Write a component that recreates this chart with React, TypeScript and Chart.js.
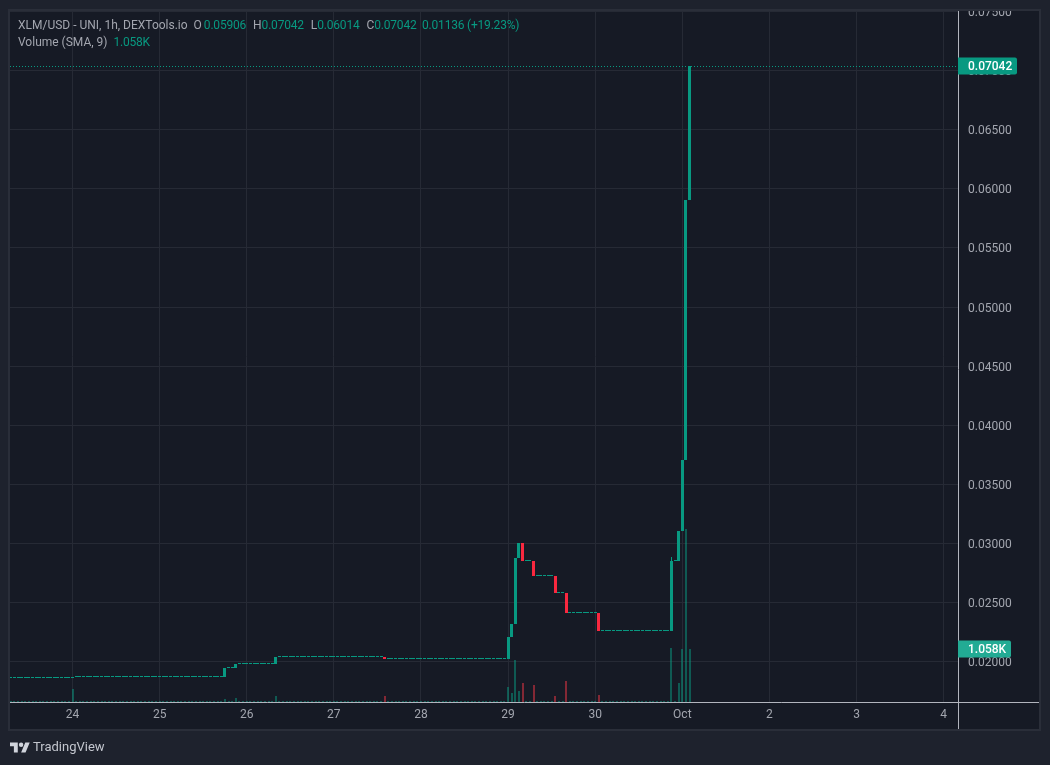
import { useEffect, useRef } from 'react';
import { Chart, registerables } from 'chart.js';

Chart.register(...registerables);

// hour offsets counted from Sep 24 00:00
const firstHour = -17;

const closes = [
  // Sep 23, late
  0.01861, 0.01861, 0.01861, 0.01861, 0.01861, 0.01861, 0.01861, 0.01861, 0.01861,
  0.01861, 0.01861, 0.01861, 0.01861, 0.01861, 0.01861, 0.01861, 0.01861,
  // Sep 24
  0.01873, 0.01873, 0.01873, 0.01873, 0.01873, 0.01873, 0.01873, 0.01873, 0.01873, 0.01873, 0.01873, 0.01873,
  0.01873, 0.01873, 0.01873, 0.01873, 0.01873, 0.01873, 0.01873, 0.01873, 0.01873, 0.01873, 0.01873, 0.01873,
  // Sep 25
  0.01873, 0.01873, 0.01873, 0.01873, 0.01873, 0.01873, 0.01873, 0.01873, 0.01873, 0.01873, 0.01873, 0.01873,
  0.01873, 0.01873, 0.01873, 0.01873, 0.01873, 0.01873, 0.01951, 0.01951, 0.01951, 0.01983, 0.01983, 0.01983,
  // Sep 26
  0.01983, 0.01983, 0.01983, 0.01983, 0.01983, 0.01983, 0.01983, 0.01983, 0.02038, 0.02038, 0.02038, 0.02038,
  0.02038, 0.02038, 0.02038, 0.02038, 0.02038, 0.02038, 0.02038, 0.02038, 0.02038, 0.02038, 0.02038, 0.02038,
  // Sep 27
  0.02038, 0.02038, 0.02038, 0.02038, 0.02038, 0.02038, 0.02038, 0.02038, 0.02038, 0.02038, 0.02038, 0.02038,
  0.02038, 0.02038, 0.02025, 0.02025, 0.02025, 0.02025, 0.02025, 0.02025, 0.02025, 0.02025, 0.02025, 0.02025,
  // Sep 28
  0.02025, 0.02025, 0.02025, 0.02025, 0.02025, 0.02025, 0.02025, 0.02025, 0.02025, 0.02025, 0.02025, 0.02025,
  0.02025, 0.02025, 0.02025, 0.02025, 0.02025, 0.02025, 0.02025, 0.02025, 0.02025, 0.02025, 0.02025, 0.02025,
  // Sep 29
  0.02207, 0.02317, 0.02876, 0.03003, 0.02854, 0.02854, 0.02854, 0.02728, 0.02728, 0.02728, 0.02728, 0.02728,
  0.02728, 0.02584, 0.02584, 0.02584, 0.02415, 0.02415, 0.02415, 0.02415, 0.02415, 0.02415, 0.02415, 0.02415,
  // Sep 30
  0.02415, 0.02262, 0.02262, 0.02262, 0.02262, 0.02262, 0.02262, 0.02262, 0.02262, 0.02262, 0.02262, 0.02262,
  0.02262, 0.02262, 0.02262, 0.02262, 0.02262, 0.02262, 0.02262, 0.02262, 0.02262, 0.02850, 0.02850, 0.03104,
  // Oct 1
  0.03705, 0.05906, 0.07042,
];

const volumes = [
  20, 20, 20, 20, 20, 20, 20, 20, 20, 20, 20, 20, 20, 20, 20, 20, 20,
  255, 20, 20, 20, 20, 20, 20, 20, 20, 20, 20, 20, 20, 20, 20, 20, 20, 20, 20, 20, 20, 20, 20, 20,
  20, 20, 20, 20, 20, 20, 20, 20, 20, 20, 20, 20, 20, 20, 20, 20, 20, 20, 59, 20, 20, 78, 20, 20,
  20, 20, 20, 20, 20, 20, 20, 20, 118, 20, 20, 20, 20, 20, 20, 20, 20, 20, 20, 20, 20, 20, 20, 20,
  20, 20, 20, 20, 20, 20, 20, 20, 20, 20, 20, 20, 20, 20, 118, 20, 20, 20, 20, 20, 20, 20, 20, 20,
  20, 20, 20, 20, 20, 20, 20, 20, 20, 20, 20, 20, 20, 20, 20, 20, 20, 20, 20, 20, 20, 20, 20, 20,
  300, 182, 823, 216, 372, 20, 20, 333, 20, 20, 20, 20, 20, 118, 20, 20, 412, 20, 20, 20, 20, 20, 20, 20,
  20, 137, 20, 20, 20, 20, 20, 20, 20, 20, 20, 20, 20, 20, 20, 20, 20, 20, 20, 20, 20, 1058, 20, 372,
  1039, 3391, 1039,
];

const wickHour = 165;
const wickRange = [0.0285, 0.02884];

const dayHours = [0, 24, 48, 72, 96, 120, 144, 168, 192, 216, 240];
const dayLabels = ['24', '25', '26', '27', '28', '29', '30', 'Oct', '2', '3', '4'];
const priceTicks = [0.02, 0.025, 0.03, 0.035, 0.04, 0.045, 0.05, 0.055, 0.06, 0.065, 0.07, 0.075];

const lastPrice = 0.07042;
const lastVolume = 1058;

const UP = '#089981';
const DOWN = '#f9283f';
const UP_VOL = 'rgba(8,153,129,0.5)';
const DOWN_VOL = 'rgba(242,54,69,0.5)';
const PAGE = '#1e222d';
const PANEL = '#161a25';
const FRAME = '#2a2e39';
const GRID = '#262a35';
const AXIS_LINE = '#b2b5be';
const TEXT = '#a3a6af';
const FONT = 'Roboto, sans-serif';

// volume, wick, candle
const barWidths = [2, 1, 3];

const hours = closes.map((_, i) => firstHour + i);
const opens = closes.map((c, i) => (i === 0 ? c : closes[i - 1]));

function tag(ctx: CanvasRenderingContext2D, x: number, y: number, w: number, color: string, label: string) {
  ctx.fillStyle = color;
  ctx.beginPath();
  ctx.roundRect(x, y - 8.5, w, 17, [0, 2, 2, 0]);
  ctx.fill();
  ctx.fillStyle = '#ffffff';
  ctx.font = `500 12px ${FONT}`;
  ctx.textAlign = 'left';
  ctx.textBaseline = 'middle';
  ctx.fillText(label, x + 10, y + 1);
}

const chrome = {
  id: 'chrome',
  // candles sit on whole pixels, that is what leaves the gaps between flat hours
  afterDatasetsUpdate(chart: Chart) {
    chart.data.datasets.forEach((_, i) => {
      chart.getDatasetMeta(i).data.forEach((bar: any) => {
        bar.width = barWidths[i];
        bar.x = Math.round(bar.x - bar.width / 2) + bar.width / 2;
        const top = Math.round(Math.min(bar.y, bar.base));
        const bottom = Math.round(Math.max(bar.y, bar.base));
        bar.y = top;
        bar.base = bottom === top ? top + 1 : bottom;
      });
    });
  },
  beforeDraw(chart: Chart) {
    const { ctx, width, height } = chart;
    ctx.save();
    ctx.fillStyle = PAGE;
    ctx.fillRect(0, 0, width, height);
    ctx.fillStyle = PANEL;
    ctx.fillRect(10, 10, 1029, 719);
    ctx.restore();
  },
  afterDraw(chart: Chart) {
    const { ctx, chartArea, scales, width } = chart;
    ctx.save();

    const py = Math.round(scales.y.getPixelForValue(lastPrice)) + 0.5;
    ctx.strokeStyle = UP;
    ctx.lineWidth = 1;
    ctx.setLineDash([1, 2]);
    ctx.beginPath();
    ctx.moveTo(chartArea.left, py);
    ctx.lineTo(chartArea.right, py);
    ctx.stroke();
    ctx.setLineDash([]);

    // axis lines
    ctx.strokeStyle = AXIS_LINE;
    ctx.beginPath();
    ctx.moveTo(chartArea.left, chartArea.bottom - 0.5);
    ctx.lineTo(1039, chartArea.bottom - 0.5);
    ctx.moveTo(chartArea.right + 0.5, chartArea.top);
    ctx.lineTo(chartArea.right + 0.5, 729);
    ctx.stroke();

    // the top tick label is cut by the pane edge
    ctx.fillStyle = PAGE;
    ctx.fillRect(0, 0, width, 9);
    ctx.strokeStyle = FRAME;
    ctx.lineWidth = 2;
    ctx.strokeRect(9, 10, 1031, 720);

    tag(ctx, chartArea.right, py - 0.5, 59, UP, lastPrice.toFixed(5));
    tag(ctx, chartArea.right, scales.vol.getPixelForValue(lastVolume) + 1, 53, '#22ab94', '1.058K');
    ctx.restore();
  },
};

function App() {
  const canvasRef = useRef<HTMLCanvasElement>(null);

  useEffect(() => {
    if (!canvasRef.current) return;
    const chart = new Chart(canvasRef.current, {
      type: 'bar',
      data: {
        datasets: [
          {
            label: 'Volume',
            yAxisID: 'vol',
            data: hours.map((h, i) => ({ x: h, y: volumes[i] })),
            backgroundColor: hours.map((_, i) => (closes[i] < opens[i] ? DOWN_VOL : UP_VOL)),
            minBarLength: 1,
            inflateAmount: 0,
            grouped: false,
            order: 3,
          },
          {
            label: 'Wick',
            yAxisID: 'y',
            data: [{ x: wickHour, y: wickRange }],
            backgroundColor: UP,
            inflateAmount: 0,
            grouped: false,
            order: 2,
          },
          {
            label: 'XLM/USD',
            yAxisID: 'y',
            data: hours.map((h, i) => ({ x: h, y: [opens[i], closes[i]] })),
            backgroundColor: hours.map((_, i) => (closes[i] < opens[i] ? DOWN : UP)),
            minBarLength: 1,
            inflateAmount: 0,
            grouped: false,
            order: 1,
          },
        ] as any,
      },
      options: {
        responsive: false,
        animation: false,
        layout: { padding: { left: 10, top: 10, right: 11, bottom: 36 } },
        plugins: { legend: { display: false }, tooltip: { enabled: false } },
        scales: {
          x: {
            type: 'linear',
            offset: false,
            min: -17.22,
            max: 243.94,
            afterBuildTicks: (axis: any) => {
              axis.ticks = dayHours.map((value) => ({ value }));
            },
            afterFit: (axis: any) => {
              axis.height = 26;
              axis.paddingLeft = 0;
              axis.paddingRight = 0;
            },
            grid: { color: GRID, drawTicks: false, offset: false },
            border: { display: false },
            ticks: {
              autoSkip: false,
              maxRotation: 0,
              padding: 5,
              color: TEXT,
              font: { family: FONT, size: 12 },
              callback: (value: any) => dayLabels[dayHours.indexOf(value)],
            },
          },
          y: {
            position: 'right',
            min: 0.01653,
            max: 0.07512,
            afterBuildTicks: (axis: any) => {
              axis.ticks = priceTicks.map((value) => ({ value }));
            },
            afterFit: (axis: any) => {
              axis.width = 81;
              axis.paddingTop = 0;
              axis.paddingBottom = 0;
            },
            grid: { color: GRID, drawTicks: false },
            border: { display: false },
            ticks: {
              autoSkip: false,
              padding: 10,
              labelOffset: 1.5,
              color: TEXT,
              font: { family: FONT, size: 12 },
              callback: (value: any) => Number(value).toFixed(5),
            },
          },
          vol: {
            display: false,
            min: -19.6,
            max: 13563,
          },
        },
      },
      plugins: [chrome],
    } as any);
    return () => chart.destroy();
  }, []);

  const label = { color: TEXT, marginLeft: 1 };
  const value = { color: UP, letterSpacing: -0.2 };
  const line = { position: 'absolute', left: 18, whiteSpace: 'pre', font: `12px ${FONT}`, lineHeight: '16px' } as const;

  return (
    <div style={{ position: 'fixed', left: 0, top: 0, width: 1050, height: 765 }}>
      <canvas ref={canvasRef} width={1050} height={765} style={{ display: 'block' }} />
      <div style={{ ...line, top: 17 }}>
        <span style={{ color: TEXT }}>XLM/USD - UNI, 1h, DEXTools.io  O</span>
        <span style={{ ...value, marginLeft: 2 }}>0.05906</span>
        <span style={label}>  H</span>
        <span style={value}>0.07042</span>
        <span style={label}>  L</span>
        <span style={value}>0.06014</span>
        <span style={label}>  C</span>
        <span style={value}>0.07042</span>
        <span style={value}>  0.01136 (+19.23%)</span>
      </div>
      <div style={{ ...line, top: 34 }}>
        <span style={{ color: TEXT }}>Volume (SMA, 9)  </span>
        <span style={value}>1.058K</span>
      </div>
      <svg width={20} height={16} viewBox="0 0 36 28" style={{ position: 'absolute', left: 10, top: 740 }}>
        <path fill="#d1d4dc" d="M14 22H7V11H0V4h14v18zM28 22h-8l7.5-18h8L28 22z" />
        <circle fill="#d1d4dc" cx="20" cy="8" r="4" />
      </svg>
      <div style={{ position: 'absolute', left: 33, top: 739, font: `13px ${FONT}`, color: '#c3c6ce', lineHeight: '16px' }}>TradingView</div>
    </div>
  );
}

export default App;
